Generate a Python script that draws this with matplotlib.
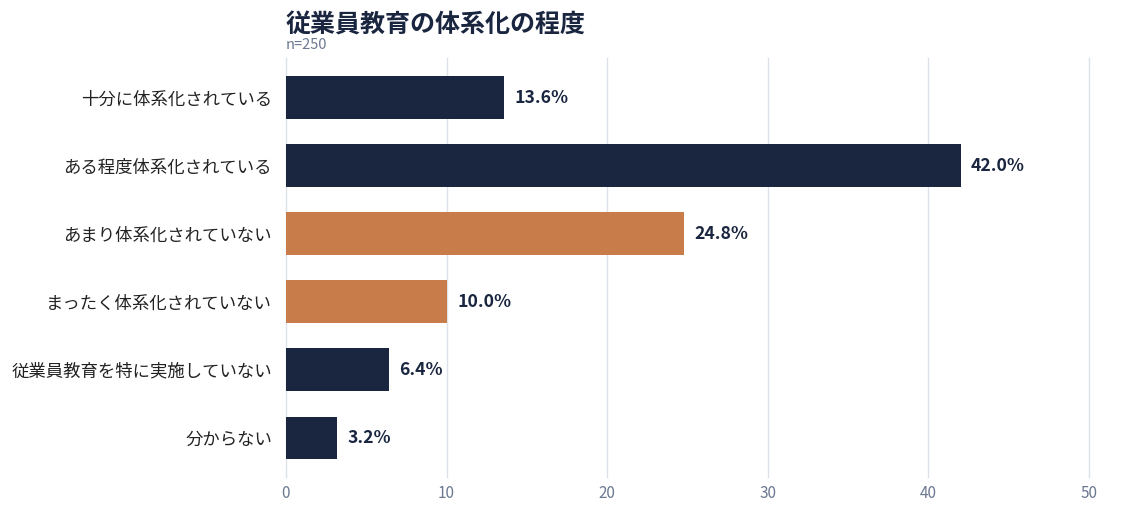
import matplotlib
matplotlib.use('Agg')
import matplotlib.pyplot as plt

plt.rcParams['font.family'] = ['Noto Sans CJK JP', 'DejaVu Sans']

# data
categories = [
    '十分に体系化されている',
    'ある程度体系化されている',
    'あまり体系化されていない',
    'まったく体系化されていない',
    '従業員教育を特に実施していない',
    '分からない',
]
values = [13.6, 42.0, 24.8, 10.0, 6.4, 3.2]
is_negative = [False, False, True, True, False, False]
title = '従業員教育の体系化の程度'
subtitle = 'n=250'
xticks = [0, 10, 20, 30, 40, 50]

NAVY = '#1a2640'
ORANGE = '#c87c4a'
GRID = '#dde1e8'
TICK = '#6b7890'

W, H = 1135, 515
fig = plt.figure(figsize=(W / 100, H / 100), dpi=100)
left, right, top, bottom = 286, 1089, 58, 477
ax = fig.add_axes([left / W, 1 - bottom / H, (right - left) / W, (bottom - top) / H])

ys = list(range(len(categories)))
colors = [ORANGE if n else NAVY for n in is_negative]
ax.barh(ys, values, height=0.63, color=colors, zorder=3)

for y, v in zip(ys, values):
    ax.text(v + 0.65, y, f'{v:.1f}%', va='center', ha='left',
            fontsize=12.7, fontweight='bold', color=NAVY, zorder=4)

ax.set_xlim(0, 50)
ax.set_ylim(5 + 39 / 68, -39.5 / 68)
ax.set_xticks(xticks)
ax.set_xticklabels([str(t) for t in xticks])
ax.set_yticks(ys)
ax.set_yticklabels(categories, fontsize=12.5, color='#222222')
ax.tick_params(axis='x', length=0, labelsize=11, labelcolor=TICK, pad=6)
ax.tick_params(axis='y', length=0, pad=10)
for t in xticks:
    ax.axvline(t, color=GRID, lw=1, zorder=0, clip_on=False)
for s in ax.spines.values():
    s.set_visible(False)

fig.text(left / W, 1 - 33 / H, title, fontsize=18, fontweight='bold',
         color=NAVY, ha='left', va='baseline')
fig.text(left / W, 1 - 49 / H, subtitle, fontsize=10.5, color=TICK,
         ha='left', va='baseline')

fig.savefig('out.png', dpi=100, facecolor='white')
